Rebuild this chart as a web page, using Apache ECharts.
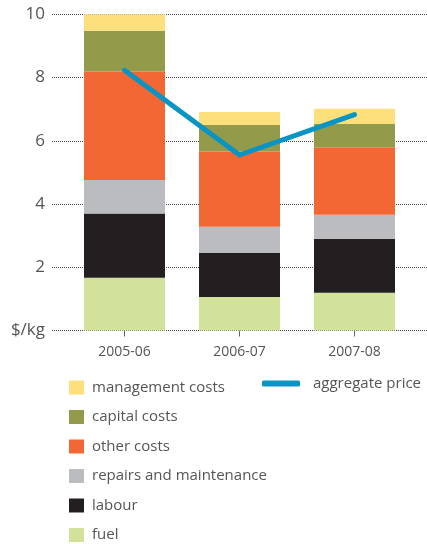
<!DOCTYPE html>
<html>
<head>
<meta charset="utf-8">
<script src="https://cdn.jsdelivr.net/npm/echarts@6/dist/echarts.min.js"></script>
<style>
  html, body { margin: 0; padding: 0; background: #fff; }
</style>
</head>
<body>
<div id="chart" style="width:427px; height:544px;"></div>
<script>
// data ($/kg)
var years = ['2005-06', '2006-07', '2007-08'];
var fuel = [1.67, 1.06, 1.19];
var labour = [2.03, 1.39, 1.71];
var repairs = [1.06, 0.83, 0.76];
var otherCosts = [3.43, 2.38, 2.12];
var capitalCosts = [1.29, 0.84, 0.75];
var managementCosts = [0.54, 0.41, 0.48];
var aggregatePrice = [8.23, 5.55, 6.83];
var yTicks = ['$/kg', '2', '4', '6', '8', '10'];

var font = 'Open Sans';
var textColor = '#555';

function barSeries(name, values, color) {
  return {
    name: name,
    type: 'bar',
    stack: 'cost',
    barWidth: 81,
    xAxisIndex: 0,
    yAxisIndex: 0,
    itemStyle: { color: color },
    data: values
  };
}

var chart = echarts.init(document.getElementById('chart'));
chart.setOption({
  animation: false,
  textStyle: { fontFamily: font },
  grid: [
    // bars
    { left: 67, right: 15, top: 14.3, bottom: 213.5 },
    // gridlines + y labels
    { left: 52, right: 0, top: 14.3, bottom: 213.5 }
  ],
  xAxis: [{
    type: 'category',
    gridIndex: 0,
    data: years,
    axisLine: { show: false },
    axisTick: { show: true, alignWithLabel: true, length: 6, lineStyle: { color: '#666' } },
    axisLabel: { color: textColor, fontSize: 14, margin: 15, fontFamily: font }
  }, {
    type: 'value',
    gridIndex: 1,
    show: false
  }],
  yAxis: [{
    type: 'value',
    gridIndex: 0,
    min: 0, max: 10, interval: 2,
    show: false
  }, {
    type: 'value',
    gridIndex: 1,
    min: 0, max: 10, interval: 2,
    axisLine: { show: false },
    axisTick: { show: false },
    splitLine: { lineStyle: { type: 'dotted', color: '#444', width: 1 } },
    axisLabel: {
      color: textColor, fontSize: 17, margin: 7, fontFamily: font,
      formatter: function (v) { return yTicks[v / 2]; }
    }
  }],
  legend: [{
    orient: 'vertical',
    left: 69,
    top: 380,
    height: 200,
    padding: 0,
    itemWidth: 15,
    itemHeight: 14,
    itemGap: 14.5,
    icon: 'rect',
    textStyle: { color: textColor, fontSize: 15, lineHeight: 14, fontFamily: font, padding: [0, 0, 0, 3] },
    data: ['management costs', 'capital costs', 'other costs', 'repairs and maintenance', 'labour', 'fuel']
  }, {
    left: 262,
    top: 376,
    padding: 0,
    itemWidth: 38,
    itemHeight: 6,
    textStyle: { color: textColor, fontSize: 15, lineHeight: 14, fontFamily: font, padding: [0, 0, 0, 8] },
    data: [{ name: 'aggregate price', icon: 'roundRect' }]
  }],
  series: [
    barSeries('fuel', fuel, '#d3e29a'),
    barSeries('labour', labour, '#231f20'),
    barSeries('repairs and maintenance', repairs, '#bbbcbf'),
    barSeries('other costs', otherCosts, '#f26733'),
    barSeries('capital costs', capitalCosts, '#939b4a'),
    barSeries('management costs', managementCosts, '#fde07c'),
    {
      name: 'aggregate price',
      type: 'line',
      xAxisIndex: 0,
      yAxisIndex: 0,
      symbol: 'none',
      z: 5,
      itemStyle: { color: '#0a94c4' },
      lineStyle: { color: '#0a94c4', width: 5, cap: 'round', join: 'round' },
      data: aggregatePrice
    }
  ]
});
</script>
</body>
</html>
